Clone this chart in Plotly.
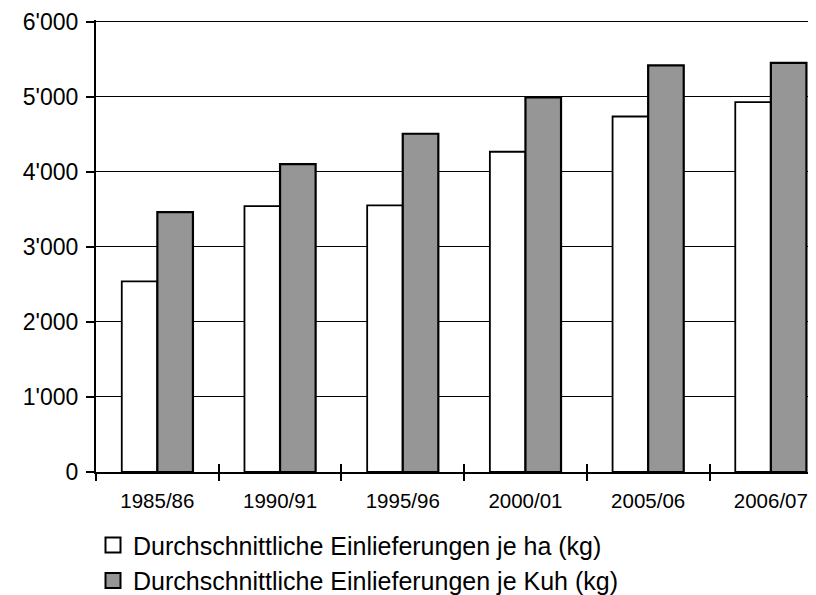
import plotly.graph_objects as go

categories = ["1985/86", "1990/91", "1995/96", "2000/01", "2005/06", "2006/07"]
je_ha = [2540, 3540, 3550, 4265, 4735, 4925]
je_kuh = [3460, 4100, 4505, 4990, 5415, 5450]
y_tick_vals = [0, 1000, 2000, 3000, 4000, 5000, 6000]
y_tick_text = ["0", "1'000", "2'000", "3'000", "4'000", "5'000", "6'000"]
series_names = ["Durchschnittliche Einlieferungen je ha (kg)",
                "Durchschnittliche Einlieferungen je Kuh (kg)"]
series_colors = ["white", "#969696"]

FONT = "Liberation Sans, Arial, sans-serif"
W, H = 816, 595
OFF = 8  # page body margin offset in the browser
Y_TOP = 6020
px_per_unit = 75 / 1000
plot_bottom_page = 471.7
plot_h = Y_TOP * px_per_unit
ML = 96 - OFF
MT = plot_bottom_page - plot_h - OFF
MB = H - (plot_bottom_page - OFF)
cat_px = 122.7
plot_w = W - ML
x_max = -0.5 + plot_w / cat_px

fig = go.Figure()
for vals, name, col, lw in [(je_ha, series_names[0], series_colors[0], 1.8),
                            (je_kuh, series_names[1], series_colors[1], 2.2)]:
    fig.add_trace(go.Bar(x=categories, y=vals, name=name, showlegend=False,
                         legendgroup=name,
                         marker=dict(color=col, line=dict(color="black", width=lw))))
# legend keys (larger square swatches, like the reference)
for name, col in zip(series_names, series_colors):
    fig.add_trace(go.Scatter(x=[None], y=[None], mode="markers", name=name,
                             legendgroup=name,
                             marker=dict(symbol="square", size=15, color=col,
                                         line=dict(color="black", width=2)),
                             hoverinfo="skip"))
# invisible trace on overlay axis for upward tick marks
fig.add_trace(go.Scatter(x=categories, y=[None]*len(categories), xaxis="x2",
                         showlegend=False, hoverinfo="skip"))

legend_top_page = 522
legend_y = -(legend_top_page - plot_bottom_page) / plot_h
legend_left_page = 93
legend_x = (legend_left_page - 96) / plot_w

fig.update_layout(
    template="none",
    width=W, height=H,
    margin=dict(l=ML, r=0, t=MT, b=MB, pad=0, autoexpand=False),
    paper_bgcolor="white", plot_bgcolor="white",
    barmode="group", bargap=0.42, bargroupgap=0,
    font=dict(family=FONT, color="black"),
    xaxis=dict(type="category", range=[-0.5, x_max], showgrid=False,
               categoryarray=categories, categoryorder="array",
               showline=True, linecolor="black", linewidth=2,
               ticks="outside", tickson="boundaries", ticklen=7, tickwidth=2,
               tickcolor="black", tickfont=dict(size=20.5, family=FONT),
               ticklabelstandoff=9, zeroline=False, automargin=False),
    xaxis2=dict(type="category", overlaying="x", anchor="y", side="bottom",
                range=[-0.5, x_max], categoryarray=categories,
                showgrid=False, showline=False, ticks="inside",
                tickson="boundaries", ticklen=8, tickwidth=2, tickcolor="black",
                showticklabels=False, zeroline=False, automargin=False),
    yaxis=dict(range=[0, Y_TOP], tickvals=y_tick_vals, ticktext=y_tick_text,
               showgrid=True, gridcolor="black", gridwidth=1,
               showline=True, linecolor="black", linewidth=2,
               ticks="outside", ticklen=8, tickwidth=2, tickcolor="black",
               tickfont=dict(size=23, family=FONT), ticklabelstandoff=3,
               zeroline=False, automargin=False),
    legend=dict(orientation="v", x=legend_x, xanchor="left",
                y=legend_y, yanchor="top", xref="paper", yref="paper",
                font=dict(size=25, family=FONT), bgcolor="rgba(0,0,0,0)",
                tracegroupgap=0, itemclick=False, itemsizing="trace"),
    showlegend=True,
)

fig.write_html("out.html")
